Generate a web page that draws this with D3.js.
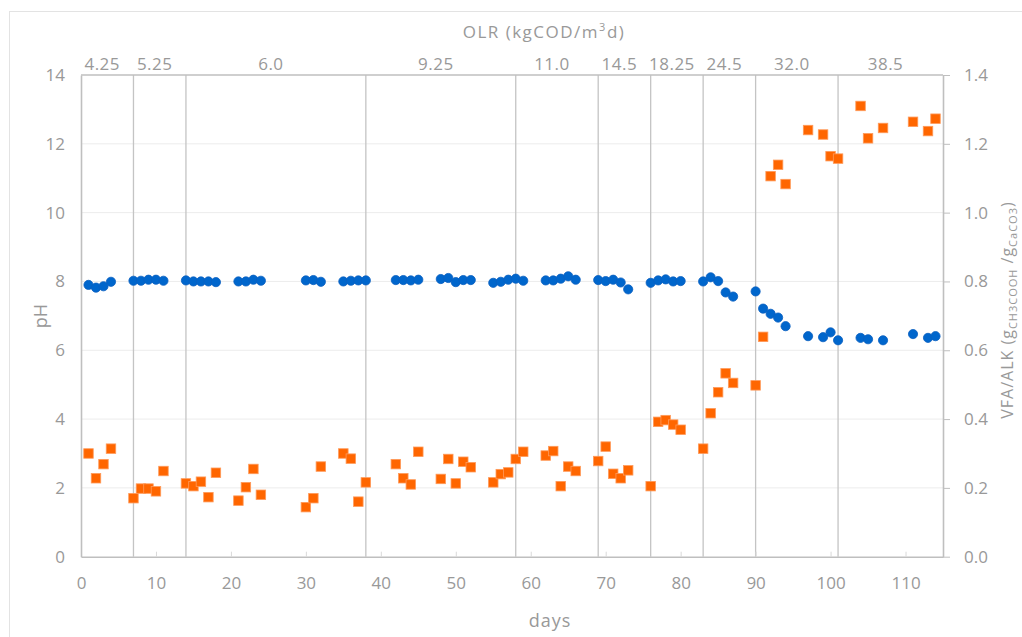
<!DOCTYPE html>
<html><head><meta charset="utf-8">
<script src="https://cdn.jsdelivr.net/npm/d3@7/dist/d3.min.js"></script>
<style>
html,body{margin:0;padding:0;background:#fff;overflow:hidden;}
text{font-family:"Open Sans","Noto Sans",sans-serif;fill:#999;}
</style></head>
<body><svg id="c" width="1022" height="637"></svg>
<script>
// ---- data ----
const days = [1,2,3,4, 7,8,9,10,11, 14,15,16,17,18, 21,22,23,24, 30,31,32, 35,36,37,38,
  42,43,44,45, 48,49,50,51,52, 55,56,57,58,59, 62,63,64,65,66, 69,70,71,72,73,
  76,77,78,79,80, 83,84,85,86,87, 90,91,92,93,94, 97,99,100,101, 104,105,107, 111,113,114];
const pH = [7.90,7.82,7.86,7.99, 8.02,8.02,8.05,8.05,8.02, 8.03,8.00,8.00,8.00,7.98,
  8.00,8.00,8.05,8.02, 8.03,8.04,7.99, 8.00,8.02,8.03,8.03,
  8.04,8.04,8.03,8.05, 8.07,8.10,7.98,8.04,8.04, 7.96,7.99,8.05,8.08,8.02,
  8.03,8.03,8.08,8.15,8.05, 8.04,8.01,8.05,7.97,7.77,
  7.96,8.03,8.06,8.00,8.01, 8.00,8.12,8.01,7.68,7.56,
  7.71,7.21,7.06,6.95,6.70, 6.41,6.38,6.52,6.29, 6.36,6.32,6.29, 6.47,6.36,6.41];
const vfaAlk = [0.300,0.228,0.269,0.314, 0.170,0.198,0.198,0.190,0.249,
  0.213,0.205,0.218,0.173,0.244, 0.163,0.202,0.255,0.180, 0.144,0.170,0.262,
  0.300,0.285,0.160,0.216, 0.269,0.228,0.210,0.305, 0.226,0.284,0.213,0.276,0.260,
  0.216,0.240,0.245,0.284,0.305, 0.294,0.307,0.205,0.262,0.249,
  0.278,0.320,0.241,0.228,0.251, 0.205,0.392,0.397,0.384,0.369,
  0.314,0.417,0.478,0.533,0.505, 0.498,0.639,1.106,1.139,1.083,
  1.240,1.227,1.164,1.157, 1.310,1.216,1.246, 1.264,1.237,1.273];
const phaseBounds = [7,14,38,58,69,76,83,90,101];
const olrLabels = ["4.25","5.25","6.0","9.25","11.0","14.5","18.25","24.5","32.0","38.5"];
const xTicks = [0,10,20,30,40,50,60,70,80,90,100,110];
const yTicks = [0,2,4,6,8,10,12,14];
const y2Ticks = [0,0.2,0.4,0.6,0.8,1.0,1.2,1.4];

// ---- layout ----
const svg = d3.select("#c");
const L=81, R=943, T=75, B=556.7;
const x = d3.scaleLinear().domain([0,115]).range([L,R]);
const y = d3.scaleLinear().domain([0,14]).range([B,T]);
const y2 = d3.scaleLinear().domain([0,1.4]).range([B,T]);
const axisCol="#bfbfbf";

// outer chart border
svg.append("rect").attr("x",9.5).attr("y",11.5).attr("width",1040).attr("height",700)
  .attr("fill","none").attr("stroke","#e3e3e3").attr("stroke-width",1);

// horizontal gridlines
svg.append("g").selectAll("line").data(yTicks.slice(1,-1)).join("line")
  .attr("x1",L).attr("x2",R).attr("y1",d=>y(d)).attr("y2",d=>y(d))
  .attr("stroke","#ececec").attr("stroke-width",1);

// phase lines
svg.append("g").selectAll("line").data(phaseBounds).join("line")
  .attr("x1",d=>x(d)).attr("x2",d=>x(d)).attr("y1",T).attr("y2",B)
  .attr("stroke","#c4c4c4").attr("stroke-width",1.3);

// axes
const gx = svg.append("g").attr("transform",`translate(0,${B})`)
  .call(d3.axisBottom(x).tickValues(xTicks).tickSizeInner(-5).tickSizeOuter(0).tickPadding(20));
const gy = svg.append("g").attr("transform",`translate(${L},0)`)
  .call(d3.axisLeft(y).tickValues(yTicks).tickSize(0).tickPadding(16));
const gy2 = svg.append("g").attr("transform",`translate(${R},0)`)
  .call(d3.axisRight(y2).tickValues(y2Ticks).tickFormat(d3.format(".1f")).tickSizeInner(7).tickSizeOuter(0).tickPadding(14));
[gx,gy,gy2].forEach(g=>{
  g.select(".domain").attr("stroke",axisCol).attr("stroke-width",1.6);
  g.selectAll(".tick line").attr("stroke",axisCol).attr("stroke-width",1);
  g.selectAll(".tick text").attr("font-size",17).attr("fill","#999")
   .attr("font-family","'Open Sans','Noto Sans',sans-serif");
});
gx.selectAll(".tick line").attr("stroke","#d9d9d9");
// top border
svg.append("line").attr("x1",L).attr("x2",R).attr("y1",T).attr("y2",T)
  .attr("stroke",axisCol).attr("stroke-width",1.6);

// OLR labels centred in each phase
const edges = [0, ...phaseBounds, 115];
svg.append("g").selectAll("text").data(olrLabels).join("text")
  .attr("x",(d,i)=>x((edges[i]+edges[i+1])/2)-5).attr("y",70)
  .attr("text-anchor","middle").attr("font-size",17).attr("letter-spacing",0.5).text(d=>d);

// OLR title
const ttl = svg.append("text").attr("x",544).attr("y",38).attr("text-anchor","middle")
  .attr("font-size",17).attr("letter-spacing",1.5);
ttl.append("tspan").text("OLR  (kgCOD/m");
ttl.append("tspan").attr("font-size",11).attr("dy",-7).text("3");
ttl.append("tspan").attr("dy",7).text("d)");

// axis titles
svg.append("text").attr("x",550).attr("y",627).attr("text-anchor","middle")
  .attr("font-size",18).attr("letter-spacing",1).text("days");
svg.append("text").attr("transform","translate(47,316) rotate(-90)").attr("text-anchor","middle")
  .attr("font-size",18).text("pH");
const rt = svg.append("text").attr("transform","translate(1013,310) rotate(-90)")
  .attr("text-anchor","middle").attr("font-size",16).attr("letter-spacing",1);
rt.append("tspan").text("VFA/ALK (g");
rt.append("tspan").attr("font-size",11).attr("dy",4).text("CH3COOH");
rt.append("tspan").attr("dy",-4).text(" /g");
rt.append("tspan").attr("font-size",11).attr("dy",4).text("CaCO3");
rt.append("tspan").attr("dy",-4).text(")");

// series
const pts = days.map((d,i)=>({d, p:pH[i], v:vfaAlk[i]}));
svg.append("g").selectAll("circle").data(pts).join("circle")
  .attr("cx",d=>x(d.d)).attr("cy",d=>y(d.p)).attr("r",4.6)
  .attr("fill","#0066CC").attr("stroke","#0a5fc0").attr("stroke-width",0.8);
const s = 9.5;
svg.append("g").selectAll("rect").data(pts).join("rect")
  .attr("x",d=>x(d.d)-s/2).attr("y",d=>y2(d.v)-s/2).attr("width",s).attr("height",s)
  .attr("fill","#FF6600").attr("stroke","#ff9a5a").attr("stroke-width",0.8);
</script></body></html>
